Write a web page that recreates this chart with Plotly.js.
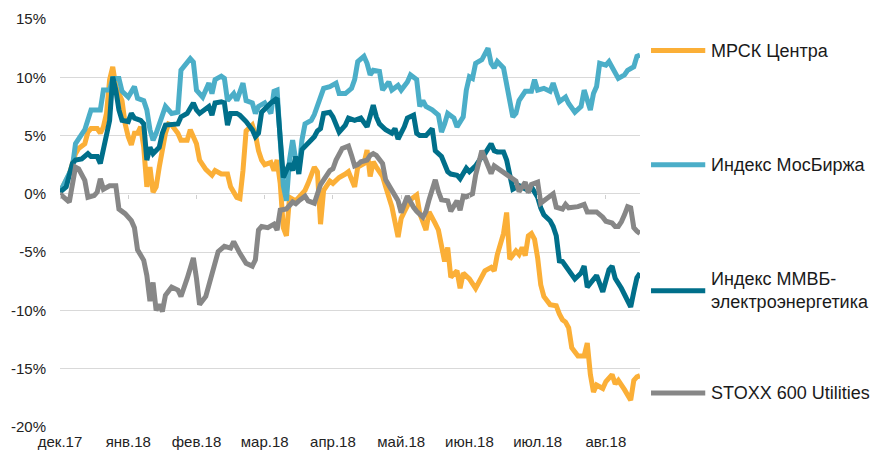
<!DOCTYPE html>
<html>
<head>
<meta charset="utf-8">
<script src="https://cdn.plot.ly/plotly-3.0.1.min.js"></script>
<style>
html,body{margin:0;padding:0;background:#fff;}
#chart{width:874px;height:452px;}
</style>
</head>
<body>
<div id="chart"></div>
<script>
// Trading-day index (22 per month tick) and % change
const monthTicks = [0, 22, 44, 66, 88, 110, 132, 154, 176];
const monthLabels = ['дек.17','янв.18','фев.18','мар.18','апр.18','май.18','июн.18','июл.18','авг.18'];
const yTickVals = [-20, -15, -10, -5, 0, 5, 10, 15];
const yTickText = ['-20%','-15%','-10%','-5%','0%','5%','10%','15%'];

const seriesNames = ['МРСК Центра', 'Индекс МосБиржа', 'Индекс ММВБ-<br>электроэнергетика', 'STOXX 600 Utilities'];

const mrskDays = [0,3,5,6,8,9,10,12,13,14,
  15,16,17,18,20,21,22,23,24,25,
  26,27,28,29,30,31,32,34,35,36,
  38,39,41,42,44,45,47,49,50,52,
  54,55,57,58,59,60,62,63,64,65,
  66,68,69,70,71,72,73,74,76,77,
  79,80,82,83,84,85,87,88,90,92,
  93,95,96,98,99,100,101,102,104,105,
  107,109,110,111,113,115,116,118,119,121,
  122,124,125,126,128,129,130,132,134,135,
  137,139,140,141,142,143,144,145,147,148,
  149,150,151,152,153,154,155,156,158,160,
  161,162,163,164,165,167,169,170,171,172,
  173,175,176,178,179,180,182,184,185,186,
  187];
const mrskVals = [0.15,1.7,3.45,3.9,4.3,5.3,5.6,5.6,5.2,5.75,
  6.9,9.8,10.9,9.2,8.0,6.0,4.9,4.2,5.2,5.2,
  5.75,4.0,0.6,2.3,0.15,0.6,2.3,5.2,6.0,5.9,
  5.2,4.6,4.6,5.5,4.3,2.9,2.1,1.6,2.0,1.7,
  1.7,0.6,-0.3,-0.4,2.0,5.4,5.9,5.1,3.7,2.9,
  2.5,2.7,2.0,2.9,0.9,-2.9,-3.6,-0.3,-0.6,-0.3,
  0.3,0.9,2.3,1.9,-2.6,0.3,1.1,0.9,1.4,1.7,
  1.9,0.6,2.3,2.6,3.75,1.5,2.75,2.3,1.5,0.6,
  -1.1,-3.7,-2.1,-1.55,-0.5,-0.1,-1.7,-3.1,-1.55,-2.55,
  -3.1,-5.8,-4.6,-7.15,-6.6,-8.1,-6.8,-7.3,-8.1,-7.6,
  -6.6,-6.3,-6.6,-5.2,-4.4,-3.4,-1.6,-5.6,-4.9,-5.2,
  -4.6,-5.3,-3.6,-3.4,-3.9,-5.5,-7.8,-8.8,-9.5,-9.6,
  -10.3,-10.8,-11.0,-11.5,-13.2,-13.9,-13.9,-12.8,-15.5,-17.0,
  -16.4,-16.7,-16.1,-15.5,-16.3,-16.0,-16.8,-17.7,-16.0,-15.7,
  -15.6];

const moexDays = [0,4,5,8,10,13,14,16,17,19,
  20,22,24,25,27,28,29,30,31,33,
  34,36,38,39,41,42,43,44,46,48,
  49,50,52,53,54,56,57,58,59,60,
  62,63,64,66,67,68,69,70,71,72,
  73,74,75,76,77,78,79,81,82,83,
  85,87,89,90,92,94,95,96,98,99,
  100,101,103,104,106,107,109,110,112,113,
  115,116,117,118,120,122,123,124,125,127,
  128,130,131,132,133,134,136,138,139,140,
  141,143,144,146,147,148,150,152,153,154,
  156,158,159,160,161,163,164,166,168,169,
  171,172,173,174,176,177,178,180,182,183,
  185,186,187];
const moexVals = [0.15,2.3,4.3,5.5,7.2,7.2,8.9,8.9,9.9,9.9,
  8.8,8.3,9.2,8.2,8.0,7.2,5.5,4.6,5.2,6.9,
  7.5,6.9,7.0,10.6,11.2,11.6,11.3,8.9,8.3,9.5,
  8.6,9.8,10.1,9.9,8.0,8.6,8.0,8.9,9.5,8.0,
  7.8,6.9,7.5,7.8,7.3,6.9,8.8,8.9,4.6,0.7,
  -0.6,2.9,4.6,2.9,2.0,4.6,6.0,6.3,6.8,7.5,
  9.05,9.2,9.5,8.6,8.6,9.05,9.8,11.35,11.8,11.2,
  10.2,10.6,10.5,8.9,9.6,8.9,9.3,8.9,9.6,10.2,
  9.8,7.5,8.0,7.5,7.2,6.75,5.3,6.0,6.9,6.5,
  5.75,6.6,8.9,10.05,9.9,11.2,11.5,12.5,11.2,10.8,
  11.35,10.8,9.2,6.6,6.9,8.0,8.8,8.8,9.8,8.9,
  9.05,8.8,9.5,8.8,7.9,8.3,7.75,7.0,7.5,8.9,
  7.2,8.6,9.2,11.2,11.05,11.35,10.9,9.9,10.2,10.6,
  10.9,11.8,11.9];

const powerDays = [0,2,4,5,7,9,10,12,13,14,
  16,17,18,19,20,22,23,24,26,27,
  28,29,30,32,33,34,36,38,39,41,
  43,44,45,47,48,49,50,52,53,54,
  55,57,58,60,62,63,64,65,67,68,
  70,71,72,74,75,76,77,78,80,82,
  83,84,85,87,88,90,92,93,95,97,
  99,101,102,103,105,107,108,109,111,112,
  114,115,116,118,120,121,123,124,125,126,
  128,129,131,132,134,136,137,139,140,141,
  143,144,145,146,148,151,152,154,155,156,
  158,159,160,161,162,164,166,168,169,170,
  172,173,175,177,178,179,181,183,184,185,
  186,187];
const powerVals = [0.15,0.6,2.6,2.9,3.0,3.45,3.2,3.2,2.6,4.0,
  6.3,10.05,8.9,7.2,6.3,6.2,6.9,6.5,6.3,6.0,
  2.9,4.0,3.45,4.0,5.2,5.9,5.9,6.0,6.6,6.9,
  7.8,7.2,6.9,7.3,7.5,6.75,7.8,7.9,7.8,5.9,
  6.9,6.9,6.75,6.2,5.5,4.9,5.2,7.0,7.6,7.8,
  8.2,4.6,1.4,2.6,2.0,3.2,1.7,3.8,4.4,4.9,
  5.4,5.6,6.9,7.0,6.6,5.3,5.9,6.5,6.3,6.5,
  5.75,7.6,6.6,6.0,5.5,5.2,5.6,4.7,5.75,6.5,
  6.75,5.2,5.0,5.0,5.6,3.7,3.2,2.6,1.9,1.7,
  1.6,1.3,2.2,1.9,2.4,3.2,3.45,4.3,3.7,3.6,
  3.6,2.9,1.4,0.4,0.7,0.3,0.6,-0.3,-1.2,-1.8,
  -2.3,-2.8,-3.6,-5.75,-5.8,-6.5,-7.3,-6.8,-6.2,-8.0,
  -7.25,-7.0,-8.4,-6.5,-6.2,-7.25,-8.1,-9.25,-9.7,-8.4,
  -7.2,-6.8];

const stoxxDays = [0,2,3,5,6,8,9,11,12,13,
  14,16,18,19,21,23,24,25,27,28,
  29,30,31,32,33,34,36,38,39,41,
  42,43,44,45,47,48,50,51,53,55,
  56,57,58,60,62,63,64,65,67,69,
  70,71,73,75,76,77,79,80,82,84,
  86,87,88,89,91,93,94,95,96,97,
  99,100,101,102,104,105,107,109,110,111,
  112,114,115,117,118,119,121,122,123,125,
  126,128,129,130,131,133,134,136,137,138,
  139,140,142,144,145,147,148,150,151,152,
  154,155,156,157,159,160,162,163,164,167,
  169,170,172,173,175,176,178,179,180,181,
  182,183,184,185,186,187];
const stoxxVals = [0,-0.4,-0.7,2.3,2.15,1.15,-0.3,-0.15,0.15,1.3,
  0.4,0.7,0.7,-1.3,-1.7,-2.3,-2.9,-4.8,-5.7,-7.0,
  -9.2,-7.6,-10.0,-9.5,-10.1,-8.7,-8.0,-8.25,-8.8,-7.25,
  -6.2,-5.5,-7.25,-9.5,-8.8,-7.8,-6.2,-4.95,-4.5,-4.65,
  -4.1,-4.65,-5.1,-5.95,-6.2,-5.65,-3.1,-2.8,-2.9,-2.6,
  -3.1,-1.4,-1.3,-0.7,-0.85,-0.6,-0.2,-0.6,-0.8,0.8,
  1.6,2.0,2.15,2.9,3.9,4.1,3.3,2.4,2.5,2.75,
  2.9,3.3,3.45,3.3,2.6,1.2,0.3,-0.6,-1.6,-0.9,
  -0.2,-1.15,-1.5,-2.0,-1.5,-0.5,1.2,0.2,-0.5,-0.6,
  -1.5,-0.6,-1.4,-0.2,-0.25,0.0,1.6,3.7,3.1,2.3,
  1.75,2.4,2.0,1.7,1.45,1.1,0.2,1.0,0.1,0.8,
  1.0,-0.8,-0.6,-0.4,0.0,-1.15,-1.3,-0.9,-1.2,-1.1,
  -0.9,-1.55,-1.6,-1.55,-2.0,-2.35,-2.5,-2.8,-2.8,-2.4,
  -1.8,-1.1,-1.2,-2.9,-3.2,-3.4];

const colors = ['#FBAF37', '#4BAEC8', '#006F8A', '#878787'];
const legendY = [0.9227, 0.643, 0.334, 0.0834];

const xRange = [0, 187];
const yRange = [-20, 15];
const FONT = 'Liberation Sans, Arial, sans-serif';

const xs = [mrskDays, moexDays, powerDays, stoxxDays];
const ys = [mrskVals, moexVals, powerVals, stoxxVals];

const traces = xs.map((x, k) => ({
  type: 'scatter', mode: 'lines', x: x, y: ys[k],
  name: seriesNames[k].replace('<br>', ''),
  xaxis: k === 3 ? 'x2' : 'x',
  line: {color: colors[k], width: 5, shape: 'linear'},
  hoverinfo: 'skip'
}));

const shapes = colors.map((c, k) => ({
  type: 'line', xref: 'paper', yref: 'paper',
  x0: 1.019, x1: 1.1125, y0: legendY[k], y1: legendY[k],
  line: {color: c, width: 5}
}));
const annotations = seriesNames.map((n, k) => ({
  xref: 'paper', yref: 'paper', x: 1.1195, y: legendY[k],
  xanchor: 'left', yanchor: 'middle', align: 'left',
  text: n, showarrow: false,
  font: {family: FONT, size: 18, color: '#1a1a1a'}
}));

const layout = {
  width: 874, height: 452,
  margin: {l: 60, r: 234, t: 19, b: 25, pad: 0},
  paper_bgcolor: '#ffffff', plot_bgcolor: '#ffffff',
  showlegend: false,
  font: {family: FONT, size: 15, color: '#222'},
  xaxis: {
    range: xRange, tickvals: monthTicks, ticktext: monthLabels,
    showgrid: false, zeroline: false, showline: false, ticks: '',
    tickfont: {family: FONT, size: 15, color: '#222'},
    ticklabelstandoff: 4, fixedrange: true
  },
  xaxis2: {
    range: xRange, overlaying: 'x', anchor: 'free', position: 20/35, side: 'bottom',
    tickvals: monthTicks, showticklabels: false, showgrid: false, zeroline: false,
    showline: false, ticks: 'outside', ticklen: 4, tickwidth: 1, tickcolor: '#D0D0D0',
    fixedrange: true
  },
  yaxis: {
    range: yRange, tickvals: yTickVals, ticktext: yTickText,
    showgrid: true, gridcolor: '#D9D9D9', gridwidth: 1,
    zeroline: false, showline: false, ticks: '',
    tickfont: {family: FONT, size: 15, color: '#222'},
    ticklabelstandoff: 13, fixedrange: true
  },
  shapes: shapes,
  annotations: annotations
};

Plotly.newPlot('chart', traces, layout, {displayModeBar: false, staticPlot: true});
</script>
</body>
</html>
